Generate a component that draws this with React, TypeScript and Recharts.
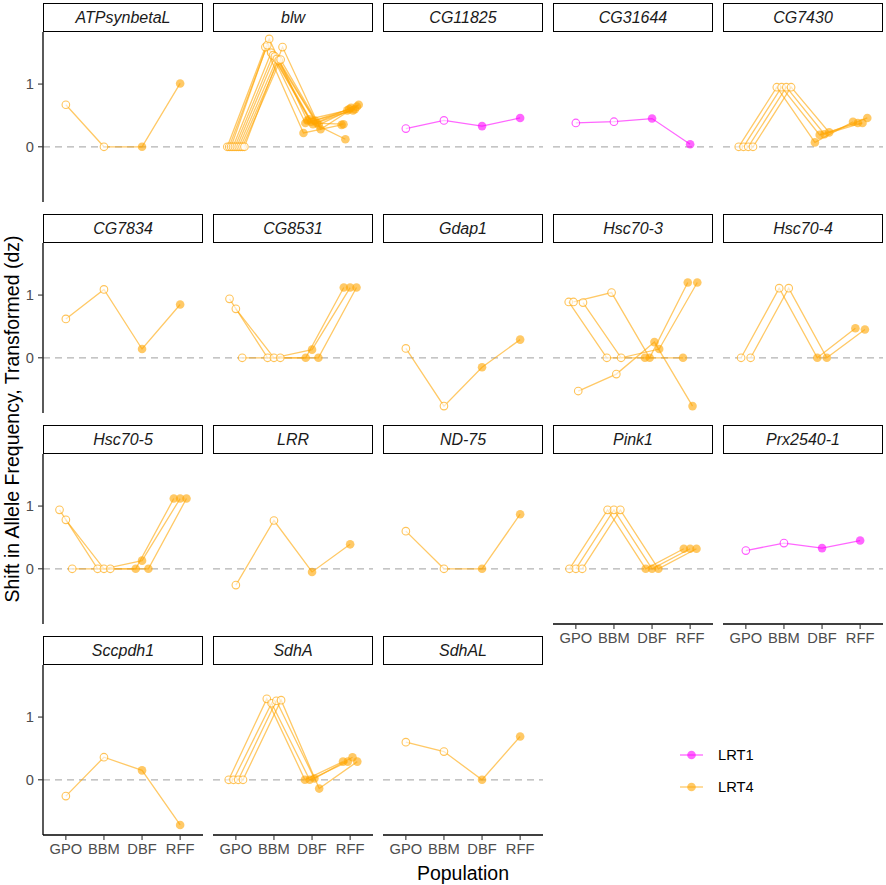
import React from "react";
import { ComposedChart, Line, XAxis, YAxis, ReferenceLine } from "recharts";

// ---------- data ----------
const populations = ["GPO", "BBM", "DBF", "RFF"];
const testNames = ["LRT1", "LRT4"];
const yTicks = [0, 1];

const geneNames = [
  "ATPsynbetaL", "blw", "CG11825", "CG31644", "CG7430",
  "CG7834", "CG8531", "Gdap1", "Hsc70-3", "Hsc70-4",
  "Hsc70-5", "LRR", "ND-75", "Pink1", "Prx2540-1",
  "Sccpdh1", "SdhA", "SdhAL",
];
const geneTests = [
  "LRT4", "LRT4", "LRT1", "LRT1", "LRT4",
  "LRT4", "LRT4", "LRT4", "LRT4", "LRT4",
  "LRT4", "LRT4", "LRT4", "LRT4", "LRT1",
  "LRT4", "LRT4", "LRT4",
];

// each row: one SNP, values for GPO, BBM, DBF, RFF
const ATPsynbetaL = [[0.67, 0, 0, 1.01]];
const blw = [
  [0, 1.59, 0.22, 0.35],
  [0, 1.62, 0.38, 0.36],
  [0, 1.72, 0.42, 0.12],
  [0, 1.5, 0.44, 0.58],
  [0, 1.46, 0.4, 0.6],
  [0, 1.44, 0.36, 0.62],
  [0, 1.4, 0.42, 0.58],
  [0, 1.38, 0.38, 0.6],
  [0, 1.39, 0.35, 0.64],
  [0, 1.59, 0.28, 0.67],
];
const CG11825 = [[0.29, 0.42, 0.33, 0.46]];
const CG31644 = [[0.38, 0.4, 0.45, 0.04]];
const CG7430 = [
  [0, 0.95, 0.07, 0.4],
  [0, 0.95, 0.19, 0.38],
  [0, 0.95, 0.2, 0.38],
  [0, 0.95, 0.23, 0.46],
];
const CG7834 = [[0.62, 1.09, 0.14, 0.85]];
const CG8531 = [
  [0.94, 0, 0, 1.12],
  [0.78, 0, 0.13, 1.12],
  [0, 0, 0, 1.12],
];
const Gdap1 = [[0.15, -0.77, -0.15, 0.29]];
const Hsc70_3 = [
  [0.89, 0, 0, 0],
  [0.89, 1.04, 0, 1.2],
  [-0.53, -0.26, 0.25, -0.77],
  [0.88, 0, 0.14, 1.2],
];
const Hsc70_4 = [
  [0, 1.11, 0, 0.47],
  [0, 1.11, 0, 0.45],
];
const Hsc70_5 = [
  [0.94, 0, 0, 1.12],
  [0.78, 0, 0.13, 1.12],
  [0, 0, 0, 1.12],
];
const LRR = [[-0.26, 0.77, -0.05, 0.39]];
const ND_75 = [[0.6, 0, 0, 0.87]];
const Pink1 = [
  [0, 0.94, 0, 0.32],
  [0, 0.94, 0, 0.32],
  [0, 0.94, 0, 0.32],
];
const Prx2540_1 = [[0.29, 0.41, 0.33, 0.45]];
const Sccpdh1 = [[-0.26, 0.36, 0.15, -0.72]];
const SdhA = [
  [0, 1.29, 0, 0.29],
  [0, 1.22, 0, 0.29],
  [0, 1.26, 0.02, 0.36],
  [0, 1.27, -0.14, 0.29],
];
const SdhAL = [[0.6, 0.45, 0, 0.69]];

const geneSnps = [
  ATPsynbetaL, blw, CG11825, CG31644, CG7430,
  CG7834, CG8531, Gdap1, Hsc70_3, Hsc70_4,
  Hsc70_5, LRR, ND_75, Pink1, Prx2540_1,
  Sccpdh1, SdhA, SdhAL,
];

// ---------- layout / style ----------
const COLORS: Record<string, string> = { LRT1: "#FF00FF", LRT4: "#FFA500" };
const COL_LEFT = [43, 213, 383, 553, 723];
const ROW_TOP = [32, 243, 454, 665];
const W = 160;
const H = 170;
const STRIP_H = 29;
const Y_DOMAIN: [number, number] = [-0.88, 1.83];
const DODGE = 0.5;
const FONT = "'Liberation Sans', Arial, Helvetica, sans-serif";
const SMALL = 14.7;
const STRIP = 16;
const TITLE = 19.5;

const makeDot = (color: string) => (props: any) => {
  const { cx, cy, payload, index } = props;
  if (cx == null || cy == null) return <g key={"d" + index} />;
  if (payload.pop >= 2) {
    return (
      <circle key={"d" + index} cx={cx} cy={cy} r={4.3} fill={color} fillOpacity={0.6} stroke="none" />
    );
  }
  return (
    <circle
      key={"d" + index}
      cx={cx}
      cy={cy}
      r={3.8}
      fill="#ffffff"
      fillOpacity={0.6}
      stroke={color}
      strokeOpacity={0.65}
      strokeWidth={1.1}
    />
  );
};

function Panel({ idx }: { idx: number }) {
  const name = geneNames[idx];
  const snps = geneSnps[idx];
  const color = COLORS[geneTests[idx]];
  const col = idx % 5;
  const row = Math.floor(idx / 5);
  const showY = col === 0;
  const showX = idx + 5 >= geneNames.length;
  const n = snps.length;
  const series = snps.map((vals, i) => {
    const off = n === 1 ? 0 : (i - (n - 1) / 2) * (DODGE / n);
    return vals.map((v, p) => ({ x: p + 1 + off, y: v, pop: p }));
  });
  const yAxisW = showY ? 43 : 0;
  const xAxisH = showX ? 40 : 0;
  const dot = makeDot(color);
  return (
    <>
      <div
        style={{
          position: "absolute",
          left: COL_LEFT[col],
          top: ROW_TOP[row] - STRIP_H,
          width: W,
          height: STRIP_H,
          boxSizing: "border-box",
          border: "1.5px solid #000",
          background: "#fff",
          display: "flex",
          alignItems: "center",
          justifyContent: "center",
          fontStyle: "italic",
          fontSize: STRIP,
          color: "#1A1A1A",
        }}
      >
        {name}
      </div>
      <div style={{ position: "absolute", left: COL_LEFT[col] - yAxisW, top: ROW_TOP[row] }}>
        <ComposedChart
          width={W + yAxisW}
          height={H + xAxisH}
          margin={{ top: 0, right: 0, bottom: 0, left: 0 }}
        >
          <XAxis
            type="number"
            dataKey="x"
            domain={[0.4, 4.6]}
            ticks={[1, 2, 3, 4]}
            interval={0}
            allowDataOverflow
            hide={!showX}
            height={xAxisH || 1}
            tickFormatter={(v: number) => populations[Math.round(v) - 1]}
            axisLine={{ stroke: "#000", strokeWidth: 1.3 }}
            tickLine={{ stroke: "#333", strokeWidth: 1.1 }}
            tickSize={5}
            tickMargin={4}
            tick={{ fill: "#4D4D4D", fontSize: SMALL, fontFamily: FONT }}
          />
          <YAxis
            type="number"
            dataKey="y"
            domain={Y_DOMAIN}
            ticks={yTicks}
            interval={0}
            allowDataOverflow
            hide={!showY}
            width={yAxisW || 1}
            axisLine={{ stroke: "#000", strokeWidth: 1.3 }}
            tickLine={{ stroke: "#333", strokeWidth: 1.1 }}
            tickSize={5}
            tickMargin={4}
            tick={{ fill: "#4D4D4D", fontSize: SMALL, fontFamily: FONT }}
          />
          <ReferenceLine y={0} stroke="#B3B3B3" strokeWidth={1.3} strokeDasharray="7 5" />
          {series.map((d, i) => (
            <Line
              key={"l" + i}
              data={d}
              dataKey="y"
              type="linear"
              stroke={color}
              strokeOpacity={0.6}
              strokeWidth={1.3}
              dot={false}
              activeDot={false}
              isAnimationActive={false}
            />
          ))}
          {series.map((d, i) => (
            <Line
              key={"p" + i}
              data={d}
              dataKey="y"
              type="linear"
              stroke="none"
              dot={dot}
              activeDot={false}
              isAnimationActive={false}
            />
          ))}
        </ComposedChart>
      </div>
    </>
  );
}

export default function App() {
  return (
    <div
      style={{
        position: "absolute",
        left: 0,
        top: 0,
        width: 886,
        height: 885,
        background: "#fff",
        fontFamily: FONT,
      }}
    >
      <svg
        width={886}
        height={885}
        style={{ position: "absolute", left: 0, top: 0 }}
        fontFamily={FONT}
      >
        <text
          transform="translate(12, 419) rotate(-90)"
          textAnchor="middle"
          dominantBaseline="central"
          fontSize={TITLE}
          fill="#000"
        >
          Shift in Allele Frequency, Transformed (dz)
        </text>
        <text x={463} y={880} textAnchor="middle" fontSize={TITLE} fill="#000">
          Population
        </text>
        {testNames.map((t, i) => {
          const y = 755 + i * 32;
          return (
            <g key={t}>
              <line x1={680} x2={703} y1={y} y2={y} stroke={COLORS[t]} strokeOpacity={0.6} strokeWidth={1.3} />
              <circle cx={691.5} cy={y} r={4.3} fill={COLORS[t]} fillOpacity={0.6} />
              <text x={718} y={y + 5.3} fontSize={SMALL} fill="#000">
                {t}
              </text>
            </g>
          );
        })}
      </svg>
      {geneNames.map((g, i) => (
        <Panel key={g} idx={i} />
      ))}
    </div>
  );
}
